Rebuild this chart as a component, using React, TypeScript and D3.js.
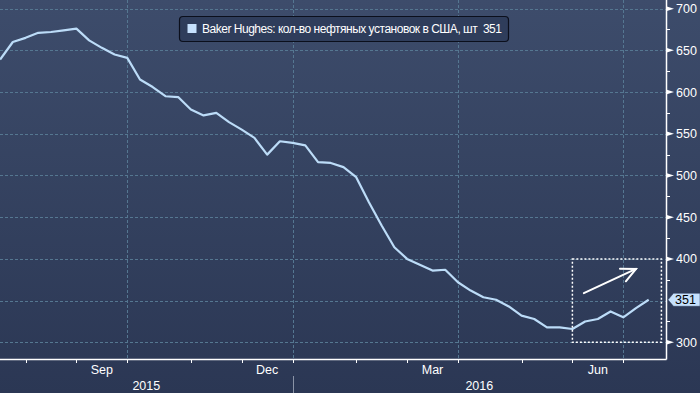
import React from 'react';
import * as d3 from 'd3';

// Baker Hughes US oil rig count, weekly, Jul 2015 - Jul 2016
const rigCount = [
  639, 660, 665, 671, 672, 674, 676, 662, 653, 645,
  641, 615, 606, 595, 594, 579, 572, 575, 564, 555,
  545, 525, 541, 539, 536, 516, 515, 510, 498, 468,
  440, 414, 400, 393, 386, 387, 372, 362, 354, 351,
  343, 332, 328, 318, 318, 316, 325, 328, 337, 330,
  341, 351,
];

// week index of each month end tick
const monthTicks = [2, 6, 10, 15, 19, 23, 28, 32, 36, 41, 45, 49];
const labeledMonths = ['Sep', 'Dec', 'Mar', 'Jun'];
const labeledMonthEnds = [10, 23, 36, 49];
const years = ['2015', '2016'];
const yearBoundary = 23;
const yTicks = [300, 350, 400, 450, 500, 550, 600, 650, 700];
const yMinorTicks = [325, 375, 425, 475, 525, 575, 625, 675];

const legendText = 'Baker Hughes: кол-во нефтяных установок в США, шт\u00a0\u00a0351';

// annotation: box and arrow around the recent uptick
const boxIdx = [45, 52];
const boxVal = [300, 400];
const arrowFrom = [45.9, 359];
const arrowTo = [50, 388];

const W = 700;
const H = 393;
const axisX = 666;
const axisY = 359;
const font = '"Liberation Sans", Arial, sans-serif';

export default function App() {
  const x = d3.scaleLinear().domain([0, 51]).range([0.1, 648.7]);
  const y = d3.scaleLinear().domain([280, 710]).range([axisY, 0.3]);

  const line = d3.line<number>()
    .x((_, i) => x(i))
    .y(d => y(d));

  const last = rigCount[rigCount.length - 1];
  const ly = y(last);

  // arrow geometry
  const ax1 = x(arrowFrom[0]), ay1 = y(arrowFrom[1]);
  const ax2 = x(arrowTo[0]), ay2 = y(arrowTo[1]);
  const ang = Math.atan2(ay2 - ay1, ax2 - ax1);
  const head = 16;
  const h1 = [ax2 - head * Math.cos(ang - 0.45), ay2 - head * Math.sin(ang - 0.45)];
  const h2 = [ax2 - head * Math.cos(ang + 0.45), ay2 - head * Math.sin(ang + 0.45)];

  return (
    <svg width={W} height={H} style={{ position: 'absolute', left: 0, top: 0, display: 'block' }}>
      <defs>
        <linearGradient id="bg" x1="0" y1="0" x2="0" y2="1">
          <stop offset="0" stopColor="#3d4c6b" />
          <stop offset="1" stopColor="#2b3754" />
        </linearGradient>
      </defs>
      <rect width={W} height={H} fill="url(#bg)" />

      {/* grid */}
      <g stroke="#557791" strokeWidth={1} strokeDasharray="3 2">
        {yTicks.map(t => (
          <line key={t} x1={0} x2={axisX} y1={Math.round(y(t)) + 0.5} y2={Math.round(y(t)) + 0.5} />
        ))}
        {labeledMonthEnds.map(i => (
          <line key={i} x1={Math.round(x(i)) + 0.5} x2={Math.round(x(i)) + 0.5} y1={0} y2={axisY} />
        ))}
      </g>

      {/* series */}
      <path d={line(rigCount) || ''} fill="none" stroke="#bcdcf8" strokeWidth={2.2} strokeLinejoin="round" />

      {/* annotation */}
      <rect
        x={x(boxIdx[0])} y={y(boxVal[1])}
        width={x(boxIdx[1]) - x(boxIdx[0])} height={y(boxVal[0]) - y(boxVal[1])}
        fill="none" stroke="#ffffff" strokeWidth={1.5} strokeDasharray="2 2"
      />
      <g stroke="#ffffff" strokeWidth={2} fill="none" strokeLinecap="round">
        <line x1={ax1} y1={ay1} x2={ax2} y2={ay2} />
        <polyline points={`${h1[0]},${h1[1]} ${ax2},${ay2} ${h2[0]},${h2[1]}`} />
      </g>

      {/* axes */}
      <line x1={0} x2={axisX + 0.5} y1={axisY + 0.5} y2={axisY + 0.5} stroke="#ffffff" strokeWidth={1.5} />
      <line x1={axisX + 0.5} x2={axisX + 0.5} y1={0} y2={axisY + 0.5} stroke="#ffffff" strokeWidth={1.5} />

      {monthTicks.map(i => (
        <line key={i} x1={Math.round(x(i)) + 0.5} x2={Math.round(x(i)) + 0.5} y1={axisY} y2={axisY + 4} stroke="#ffffff" />
      ))}
      {labeledMonths.map((m, k) => {
        const end = labeledMonthEnds[k];
        const start = monthTicks[monthTicks.indexOf(end) - 1];
        return (
          <text key={m} x={(x(start) + x(end)) / 2} y={374} textAnchor="middle"
            fill="#ffffff" fontFamily={font} fontSize={12.5}>{m}</text>
        );
      })}
      {years.map((yr, k) => {
        const a = k === 0 ? 0 : x(yearBoundary);
        const b = k === 0 ? x(yearBoundary) : axisX;
        return (
          <text key={yr} x={(a + b) / 2} y={390} textAnchor="middle"
            fill="#ffffff" fontFamily={font} fontSize={12.5}>{yr}</text>
        );
      })}
      <line x1={Math.round(x(yearBoundary)) + 0.5} x2={Math.round(x(yearBoundary)) + 0.5} y1={376} y2={H} stroke="#8a93a6" strokeWidth={1} />

      {/* y axis ticks */}
      {yMinorTicks.map(t => (
        <line key={t} x1={axisX} x2={axisX + 4} y1={Math.round(y(t)) + 0.5} y2={Math.round(y(t)) + 0.5} stroke="#ffffff" />
      ))}
      {yTicks.filter(t => Math.abs(y(t) - ly) > 8).map(t => {
        const ty = y(t);
        return (
          <g key={t}>
            <path d={`M${axisX},${ty - 2.5} L${axisX + 8},${ty} L${axisX},${ty + 2.5} Z`} fill="#ffffff" />
            <text x={676} y={ty + 4.5} fill="#ffffff" fontFamily={font} fontSize={12.5}>{t}</text>
          </g>
        );
      })}

      {/* last value tag */}
      <path d={`M${668},${ly} L${673.5},${ly - 6.5} L${W},${ly - 6.5} L${W},${ly + 6.5} L${673.5},${ly + 6.5} Z`}
        fill="#c6e1fd" stroke="#2b3754" strokeWidth={0.5} />
      <text x={685.5} y={ly + 4.5} textAnchor="middle" fill="#000000" fontFamily={font} fontSize={12.5}>{last}</text>

      {/* legend */}
      <rect x={179.5} y={16.5} width={329} height={25} rx={3.5} fill="#2f3d5b" stroke="#0b0f1c" strokeWidth={1.2} />
      <rect x={187.5} y={24} width={9} height={9} fill="#c6e1fd" />
      <text x={202} y={33} fill="#ffffff" fontFamily={font} fontSize={12}
        textLength={300} lengthAdjust="spacing">{legendText}</text>
    </svg>
  );
}
